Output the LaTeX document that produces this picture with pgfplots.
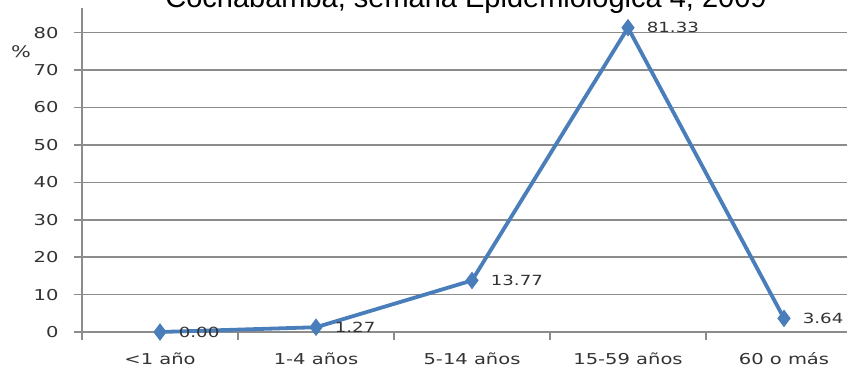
\documentclass[border=0pt]{standalone}
\usepackage{pgfplots}
\pgfplotsset{compat=1.18}
\usepackage{fontspec}
\setmainfont{DejaVu Sans}[FakeStretch=1.3]
\newfontfamily\titlefont{Liberation Sans}
\definecolor{lineblue}{HTML}{4A7EBB}
\definecolor{gridgray}{HTML}{8C8C8C}
\definecolor{txt}{HTML}{333333}
\begin{document}
\begin{tikzpicture}[x=1pt,y=1pt]
\begin{axis}[
  at={(82pt,41pt)}, anchor=south west,
  scale only axis, width=780pt, height=324pt,
  xmin=-0.5, xmax=4.5, ymin=0, ymax=86.6,
  axis lines=left,
  axis line style={gridgray, line width=1.5pt, -},
  xtick={-0.5,0.5,1.5,2.5,3.5,4.5}, xticklabels={},
  extra x ticks={0,1,2,3,4},
  extra x tick labels={<1 año, 1-4 años, 5-14 años, 15-59 años, 60 o más},
  extra x tick style={major tick length=0pt, xticklabel style={yshift=-17pt}},
  ytick={0,10,...,80},
  ymajorgrids, grid style={gridgray, line width=1.5pt},
  tick align=outside, major tick length=8pt,
  tick style={gridgray, line width=1.5pt},
  ticklabel style={font=\fontsize{15}{15}\selectfont, text=txt},
  yticklabel style={/pgf/number format/assume math mode=true, /pgf/number format/fixed, xshift=-12pt},
  clip=false,
  nodes near coords,
  point meta=explicit symbolic,
  every node near coord/.style={anchor=west, xshift=15pt, font=\fontsize{14}{14}\selectfont, text=txt},
]
\addplot[color=lineblue, line width=3.8pt, mark=diamond*, mark size=8pt, mark options={solid, fill=lineblue, line width=1pt}]
  coordinates {(0,0)[0.00] (1,1.27)[1.27] (2,13.77)[13.77] (3,81.33)[81.33] (4,3.64)[3.64]};
\end{axis}
\node[font=\fontsize{16}{16}\selectfont, text=txt] at (21,321) {\%};
\node[anchor=base, font=\titlefont\fontsize{29}{29}\selectfont] at (466,365) {Cochabamba, semana Epidemiológica 4, 2009};
\pgfresetboundingbox
\useasboundingbox (0,0) rectangle (847,373);
\end{tikzpicture}
\end{document}
